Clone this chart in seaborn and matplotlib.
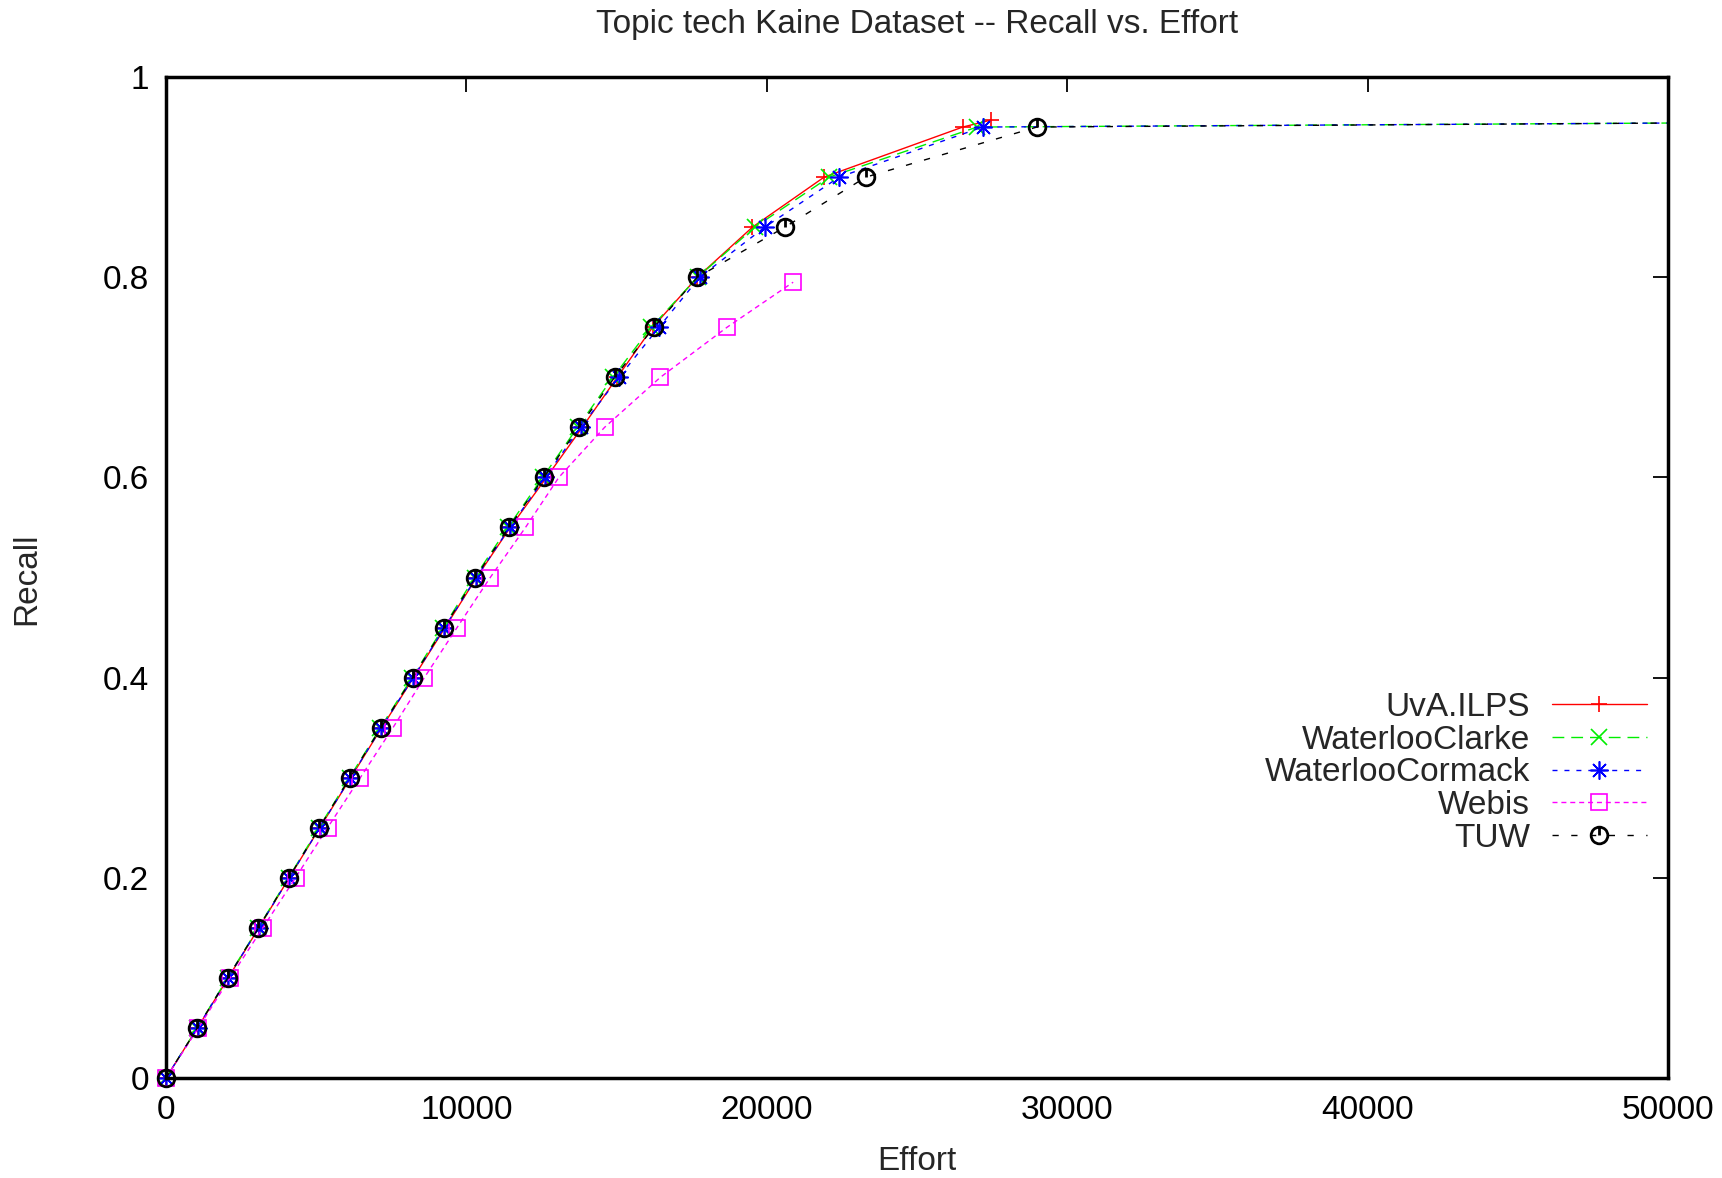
import numpy as np
import pandas as pd
import matplotlib
matplotlib.use("Agg")
import matplotlib.pyplot as plt
from matplotlib.path import Path
import seaborn as sns

# recall levels (x, effort per run)
recall = [0.00, 0.05, 0.10, 0.15, 0.20, 0.25, 0.30, 0.35, 0.40, 0.45,
          0.50, 0.55, 0.60, 0.65, 0.70, 0.75, 0.80, 0.85, 0.90, 0.95]

uva_effort = [0, 1050, 2070, 3090, 4100, 5120, 6150, 7180, 8240, 9290,
              10340, 11460, 12667, 13856, 15022, 16200, 17690, 19522, 21910, 26523]
uva_last = (27467, 0.957)

clarke_effort = [0, 1040, 2050, 3070, 4080, 5090, 6110, 7140, 8190, 9230,
                 10270, 11380, 12540, 13700, 14880, 16150, 17700, 19600, 22077, 27000]
cormack_effort = [0, 1050, 2060, 3085, 4100, 5115, 6140, 7170, 8230, 9270,
                  10330, 11440, 12620, 13800, 15077, 16410, 17767, 19933, 22410, 27190]
tuw_effort = [0, 1044, 2056, 3078, 4089, 5100, 6122, 7156, 8211, 9256,
              10300, 11411, 12577, 13744, 14933, 16243, 17690, 20600, 23300, 28990]
# the runs that keep going run off the right edge at about this recall
tail = (50000, 0.954)

webis_recall = recall[:16] + [0.795]
webis_effort = [0, 1078, 2133, 3222, 4311, 5378, 6467, 7556, 8600, 9689,
                10793, 11967, 13077, 14600, 16457, 18677, 20877]

FS = 24

sns.set_theme(style="white")
plt.rcParams["font.family"] = ["Liberation Sans", "DejaVu Sans"]

fig = plt.figure(figsize=(17.22, 11.78), dpi=100)
ax = fig.add_axes([166 / 1722, 1 - 1078 / 1178, 1502 / 1722, 1001 / 1178])

# circle with a tick at the top, like gnuplot's point type
circ_tick = Path.make_compound_path(Path.unit_circle(),
                                    Path([(0, 1), (0, 0)], [Path.MOVETO, Path.LINETO]))

runs = [
    ("UvA.ILPS", uva_effort + [uva_last[0]], recall + [uva_last[1]], "#ff0000",
     "-", "+", 12, 1.2, False),
    ("WaterlooClarke", clarke_effort + [tail[0]], recall + [tail[1]], "#00ee00",
     (0, (8.5, 5)), "x", 11, 1.2, True),
    ("WaterlooCormack", cormack_effort + [tail[0]], recall + [tail[1]], "#0000ff",
     (0, (3.6, 5)), (8, 2, 0), 13, 1.2, True),
    ("Webis", webis_effort, webis_recall, "#ff00ff",
     (0, (3.6, 2.8)), "s", 11, 1.2, False),
    ("TUW", tuw_effort + [tail[0]], recall + [tail[1]], "#000000",
     (0, (4.5, 9)), circ_tick, 12, 2.0, True),
]

for name, xs, ys, col, ls, mk, ms, mew, has_tail in runs:
    df = pd.DataFrame({"Effort": xs, "Recall": ys})
    n = len(xs) - 1 if has_tail else len(xs)
    sns.lineplot(data=df, x="Effort", y="Recall", ax=ax, sort=False, estimator=None,
                 label=name, color=col, linestyle=ls, linewidth=1.0,
                 marker=mk, markersize=ms, markeredgewidth=mew,
                 markeredgecolor=col, markerfacecolor="none",
                 markevery=list(range(n)), clip_on=False)

ax.set_xlim(0, 50000)
ax.set_ylim(0, 1)
ax.set_xticks([0, 10000, 20000, 30000, 40000, 50000])
ax.set_yticks([0, 0.2, 0.4, 0.6, 0.8, 1.0])
ax.set_yticklabels(["0", "0.2", "0.4", "0.6", "0.8", "1"])
ax.tick_params(direction="in", length=11, width=1.3, top=True, right=True,
               labelsize=FS, colors="black", pad=12)
for s in ax.spines.values():
    s.set_visible(True)
    s.set_color("black")
    s.set_linewidth(2.5)

ax.set_xlabel("Effort", fontsize=FS)
ax.set_ylabel("Recall", fontsize=FS)
ax.xaxis.label.set_va("center")
ax.yaxis.label.set_va("center")
ax.xaxis.set_label_coords(0.5, (1078 - 1162) / 1001)
ax.yaxis.set_label_coords((27 - 166) / 1502, 0.499)

fig.text(917 / 1722, 1 - 25 / 1178, "Topic tech Kaine Dataset -- Recall vs. Effort",
         ha="center", va="center", fontsize=FS)

ax.legend(loc="center right", bbox_to_anchor=(0.986, 0.305), frameon=False,
          markerfirst=False, fontsize=FS, handlelength=2.85, handletextpad=0.66,
          labelspacing=0.05, borderaxespad=0, borderpad=0)

fig.savefig("out.png", dpi=100)
